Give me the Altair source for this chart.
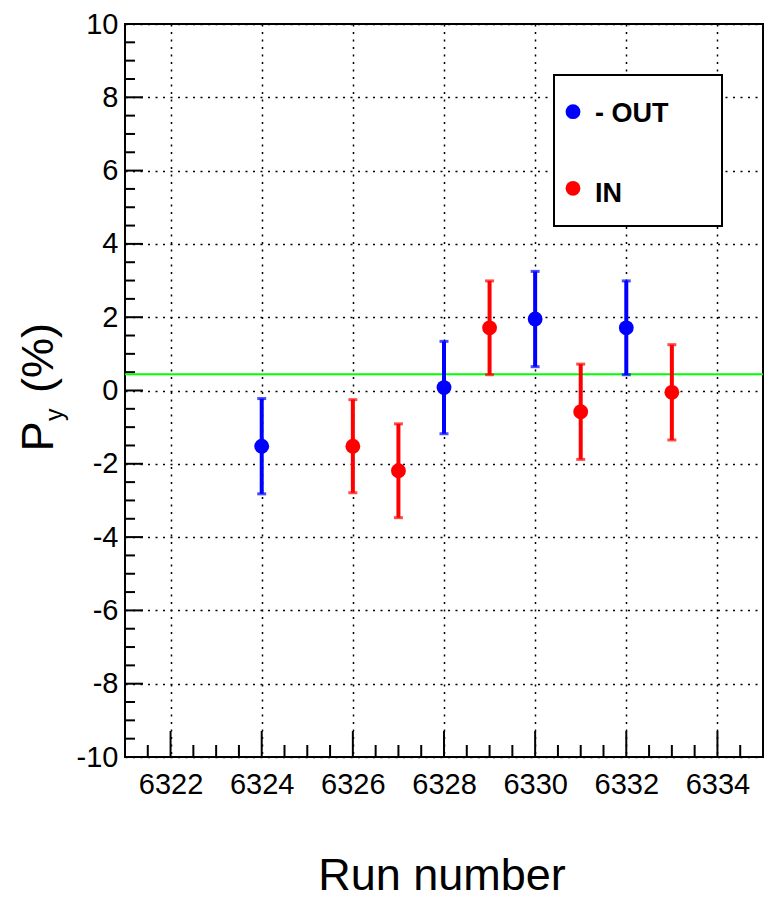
import altair as alt
import pandas as pd

# ---- data ----
series_names = ["- OUT", "IN"]
series_colors = ["#0000ff", "#ff0000"]

runs_out = [6324, 6328, 6330, 6332]
py_out = [-1.52, 0.08, 1.95, 1.71]
err_out = [1.30, 1.26, 1.30, 1.28]

runs_in = [6326, 6327, 6329, 6331, 6333]
py_in = [-1.52, -2.19, 1.71, -0.58, -0.05]
err_in = [1.27, 1.28, 1.28, 1.30, 1.30]

fit_value = [0.445]

x_domain = [6321, 6335]
y_domain = [-10, 10]
x_major = [6322, 6324, 6326, 6328, 6330, 6332, 6334]
y_major = [-10, -8, -6, -4, -2, 0, 2, 4, 6, 8, 10]
x_minor = [v / 2 for v in range(12643, 12670) if v / 2 not in x_major]
y_minor = [v / 2 for v in range(-19, 20) if v / 2 not in y_major]

x_title = ["Run number"]
y_title_main = ["P"]
y_title_sub = ["y"]
y_title_unit = ["(%)"]

# ---- tables ----
rows = []
for r, v, e in zip(runs_out, py_out, err_out):
    rows.append({"run": r, "py": v, "lo": v - e, "hi": v + e, "series": series_names[0]})
for r, v, e in zip(runs_in, py_in, err_in):
    rows.append({"run": r, "py": v, "lo": v - e, "hi": v + e, "series": series_names[1]})
df = pd.DataFrame(rows)

W, H = 638, 733
FONT = "Liberation Sans"

xscale = alt.Scale(domain=x_domain, nice=False, zero=False)
yscale = alt.Scale(domain=y_domain, nice=False, zero=False)
cscale = alt.Scale(domain=series_names, range=series_colors)

grid_dash = [2, 5.5]

xaxis = alt.Axis(
    values=x_major, labelExpr="toString(datum.value)", title=None, grid=True, gridDash=grid_dash,
    gridColor="black", gridWidth=1.5, gridOpacity=1, ticks=False, tickSize=0,
    domain=False, labelFontSize=29, labelFont=FONT, labelColor="black",
    labelPadding=13)
yaxis = alt.Axis(
    values=y_major, labelExpr="toString(datum.value)", title=None, grid=True, gridDash=grid_dash,
    gridColor="black", gridWidth=1.5, gridOpacity=1, ticks=False, tickSize=0,
    domain=False, labelFontSize=29, labelFont=FONT, labelColor="black",
    labelPadding=7)


def X(field):
    return alt.X(field, scale=xscale, axis=xaxis, title=None)


def Y(field):
    return alt.Y(field, scale=yscale, axis=yaxis, title=None)


base = alt.Chart(df)

ytick_major = alt.Chart(pd.DataFrame({"v": y_major})).mark_rule(color="black", strokeWidth=2).encode(
    y=Y("v:Q"), x=alt.value(0), x2=alt.value(18))
ytick_minor = alt.Chart(pd.DataFrame({"v": y_minor})).mark_rule(color="black", strokeWidth=2).encode(
    y=Y("v:Q"), x=alt.value(0), x2=alt.value(10))
xtick_major = alt.Chart(pd.DataFrame({"v": x_major})).mark_rule(color="black", strokeWidth=2).encode(
    x=X("v:Q"), y=alt.value(H), y2=alt.value(H - 26))
xtick_minor = alt.Chart(pd.DataFrame({"v": x_minor})).mark_rule(color="black", strokeWidth=2).encode(
    x=X("v:Q"), y=alt.value(H), y2=alt.value(H - 12))

fit_line = alt.Chart(pd.DataFrame({"f": fit_value})).mark_rule(color="#00ff00", strokeWidth=2).encode(
    y=Y("f:Q"))

color_enc = alt.Color("series:N", scale=cscale, legend=None)

bars = base.mark_rule(strokeWidth=4).encode(
    x=X("run:Q"), y=Y("lo:Q"), y2="hi:Q", color=color_enc)
caps_lo = base.mark_tick(orient="horizontal", size=9, thickness=3).encode(
    x=X("run:Q"), y=Y("lo:Q"), color=color_enc)
caps_hi = base.mark_tick(orient="horizontal", size=9, thickness=3).encode(
    x=X("run:Q"), y=Y("hi:Q"), color=color_enc)
points = base.mark_point(filled=True, shape="circle", size=220, opacity=1).encode(
    x=X("run:Q"), y=Y("py:Q"), color=color_enc)

# legend box
one = pd.DataFrame({"a": [0]})
legend_box = alt.Chart(one).mark_rect(fill="white", stroke="black", strokeWidth=2).encode(
    x=alt.value(429), x2=alt.value(597), y=alt.value(51), y2=alt.value(202))
leg_df = pd.DataFrame({"name": series_names, "color": series_colors})
legend_items = []
for i, (ym, yt) in enumerate([(87.7, 90), (164.3, 170)]):
    sub = alt.Chart(leg_df).transform_filter(alt.datum.name == series_names[i])
    legend_items.append(sub.mark_point(filled=True, shape="circle", size=220, opacity=1).encode(
        x=alt.value(448), y=alt.value(ym), color=alt.Color("color:N", scale=None)))
    legend_items.append(sub.mark_text(align="left", baseline="middle", font=FONT, fontSize=27,
                                      fontWeight="bold", color="black").encode(
        x=alt.value(470), y=alt.value(yt), text="name:N"))

# axis titles
xt = alt.Chart(pd.DataFrame({"t": x_title})).mark_text(
    align="center", baseline="alphabetic", font=FONT, fontSize=45, color="black").encode(
    x=alt.value(317), y=alt.value(865.5), text="t:N")
yt_main = alt.Chart(pd.DataFrame({"t": y_title_main})).mark_text(
    align="left", baseline="alphabetic", angle=270, font=FONT, fontSize=45, color="black").encode(
    x=alt.value(-72.3), y=alt.value(427.5), text="t:N")
yt_sub = alt.Chart(pd.DataFrame({"t": y_title_sub})).mark_text(
    align="left", baseline="alphabetic", angle=270, font=FONT, fontSize=25, color="black").encode(
    x=alt.value(-62), y=alt.value(397), text="t:N")
yt_unit = alt.Chart(pd.DataFrame({"t": y_title_unit})).mark_text(
    align="left", baseline="alphabetic", angle=270, font=FONT, fontSize=45, color="black").encode(
    x=alt.value(-72.3), y=alt.value(369), text="t:N")

chart = alt.layer(
    ytick_major, ytick_minor, xtick_major, xtick_minor,
    fit_line, bars, caps_lo, caps_hi, points, legend_box, *legend_items,
    xt, yt_main, yt_sub, yt_unit,
).properties(
    width=W, height=H,
    autosize=alt.AutoSizeParams(type="none"),
    padding={"left": 125, "top": 24, "right": 1, "bottom": 140},
    background="white",
).configure_view(stroke="black", strokeWidth=2)

chart.save("out.html", embed_options={"renderer": "svg", "actions": False})
